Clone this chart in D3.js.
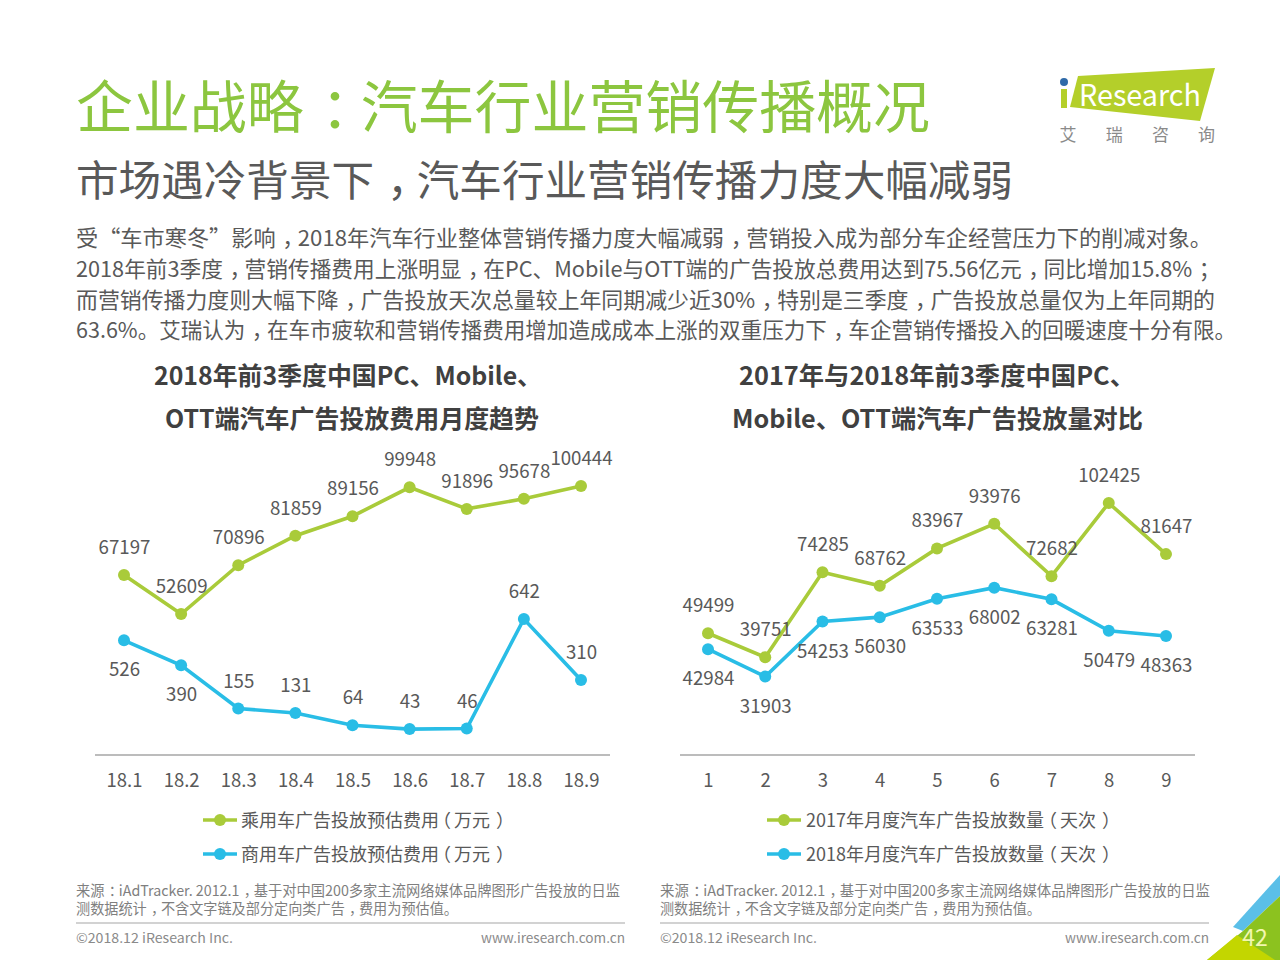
<!DOCTYPE html>
<html><head><meta charset="utf-8">
<script src="https://cdn.jsdelivr.net/npm/d3@7"></script>
<style>
html,body{margin:0;padding:0;background:#fff}svg{display:block}
text{font-family:"Noto Sans CJK SC","Noto Sans",sans-serif}
</style>
</head><body><svg id="c" width="1280" height="960"></svg>
<script>
const months1=["18.1","18.2","18.3","18.4","18.5","18.6","18.7","18.8","18.9"];
const months2=["1","2","3","4","5","6","7","8","9"];
const passenger=[67197,52609,70896,81859,89156,99948,91896,95678,100444];
const commercial=[526,390,155,131,64,43,46,642,310];
const count2017=[49499,39751,74285,68762,83967,93976,72682,102425,81647];
const count2018=[42984,31903,54253,56030,63533,68002,63281,50479,48363];
const commercialLabelBelow=[true,true,false,false,false,false,false,false,false];
const bodyLines=["受“车市寒冬”影响，2018年汽车行业整体营销传播力度大幅减弱，营销投入成为部分车企经营压力下的削减对象。",
"2018年前3季度，营销传播费用上涨明显，在PC、Mobile与OTT端的广告投放总费用达到75.56亿元，同比增加15.8%；",
"而营销传播力度则大幅下降，广告投放天次总量较上年同期减少近30%，特别是三季度，广告投放总量仅为上年同期的",
"63.6%。艾瑞认为，在车市疲软和营销传播费用增加造成成本上涨的双重压力下，车企营销传播投入的回暖速度十分有限。"];
const sourceLines=["来源：iAdTracker. 2012.1，基于对中国200多家主流网络媒体品牌图形广告投放的日监","测数据统计，不含文字链及部分定向类广告，费用为预估值。"];
const GREEN="#a9cb3a",BLUE="#29bde6",TXT="#595959";
const svg=d3.select("#c");
// fullwidth ， ： ； sit centred in their em box in the reference
function t(x,y,s,size,fill,o={}){
 const e=svg.append("text").attr("x",x).attr("y",y).attr("font-size",size).attr("fill",fill)
 .attr("text-anchor",o.a||"start").attr("font-weight",o.w||400);
 const parts=String(s).split(/([，：；])/);
 if(parts.length===1){e.text(s);}
 else{
  const shift=size*0.3;
  parts.forEach(p=>{ if(!p)return;
   const sp=e.append("tspan").text(p);
   if(/^[，：；]$/.test(p))sp.attr("dx",shift).style("letter-spacing",(-shift)+"px");
  });
 }
 if(o.len)e.attr("textLength",o.len).attr("lengthAdjust","spacingAndGlyphs");return e;}
t(76,128,"企业战略：汽车行业营销传播概况",57,"#8cc63f",{len:854});
t(76,196,"市场遇冷背景下，汽车行业营销传播力度大幅减弱",42.6,"#595959",{len:937});
const bodyLen=[1136,1138,1139,1160];
bodyLines.forEach((s,i)=>t(76,246+i*30.8,s,21.5,TXT,{len:bodyLen[i]}));
// logo
svg.append("polygon").attr("points","1078,76 1215,68 1200,121 1070,107").attr("fill","#b4cf2a");
svg.append("circle").attr("cx",1064).attr("cy",82).attr("r",4).attr("fill","#2f6aa8");
svg.append("rect").attr("x",1061).attr("y",89).attr("width",6).attr("height",19).attr("fill","#b4cf2a");
t(1079,106,"Research",30,"#fff",{len:122});
["艾","瑞","咨","询"].forEach((c,i)=>t(1068+i*46.2,141,c,17,"#8a8a8a",{a:"middle"}));
// corner
svg.append("polygon").attr("points","1233,927 1280,875 1280,896 1243,931").attr("fill","#5bbfe8");
svg.append("polygon").attr("points","1243,931 1280,896 1280,960 1207,960").attr("fill","#8cc21f");
svg.append("polygon").attr("points","1237,935 1275,960 1207,960").attr("fill","#c3d600");
t(1255,946,"42",23,"#f3f7b0",{a:"middle"});

function legendText(x,y,s,open){
 const parts=s.match(/^(.*)(.)（(.*)）$/);
 const e=svg.append("text").attr("x",x).attr("y",y).attr("font-size",18).attr("fill",TXT);
 e.append("tspan").text(parts[1]);
 e.append("tspan").style("letter-spacing",open+"px").text(parts[2]);
 e.append("tspan").text("（");
 e.append("tspan").attr("dx",3).text(parts[3]);
 e.append("tspan").attr("dx",6).text("）");
}
function chart(o){
 const x=d3.scalePoint().domain(o.cats).range(o.xr);
 const axis=d3.axisBottom(x).tickSize(0).tickPadding(19);
 const g=svg.append("g").attr("transform","translate(0,755)").call(axis);
 g.select(".domain").attr("d",`M${o.ax[0]},0H${o.ax[1]}`).attr("stroke","#a6a6a6").attr("stroke-width",1.3);
 g.selectAll("text").attr("font-size",18.5).attr("fill",TXT).attr("font-weight",400)
   .style("font-family",'"Noto Sans CJK SC"');
 o.series.forEach(s=>{
  const line=d3.line().x((d,i)=>x(o.cats[i])).y(d=>s.y(d));
  svg.append("path").attr("d",line(s.v)).attr("fill","none").attr("stroke",s.c).attr("stroke-width",3.6);
  svg.selectAll(null).data(s.v).enter().append("circle").attr("cx",(d,i)=>x(o.cats[i])).attr("cy",d=>s.y(d)).attr("r",6).attr("fill",s.c);
  s.v.forEach((d,i)=>{const below=s.below(i);
   t(x(o.cats[i])+0.5,s.y(d)+(below?29:-28)+7,d,18.7,TXT,{a:"middle"});});
 });
 o.titles.forEach((s,i)=>t(o.tx[i],[385,428][i],s,25,"#404040",{a:"middle",w:700,len:o.tl[i]}));
 o.legend.forEach((s,i)=>{const y=820+i*34,c=o.series[i].c;
  svg.append("line").attr("x1",o.lx).attr("x2",o.lx+34).attr("y1",y).attr("y2",y).attr("stroke",c).attr("stroke-width",3.6);
  svg.append("circle").attr("cx",o.lx+17).attr("cy",y).attr("r",6).attr("fill",c);
  legendText(o.lx+o.lt,y+7,s,o.open);
 });
 sourceLines.forEach((s,i)=>t(o.sx,896+i*17.5,s,14.6,"#7f7f7f",{len:o.sl[i]}));
 svg.append("line").attr("x1",o.sx).attr("x2",o.sx+549).attr("y1",923).attr("y2",923).attr("stroke","#a6a6a6").attr("stroke-width",1.2);
 t(o.sx,943,"©2018.12 iResearch Inc.",13.5,"#8a8a8a",{len:157});
 t(o.sx+549,943,"www.iresearch.com.cn",13.5,"#8a8a8a",{a:"end",len:144});
}
const yGreen=d3.scaleLinear().domain([0,100444]).range([755,486]);
const yBlue=d3.scaleLinear().domain([0,642]).range([737,619]);
const yCount=d3.scaleLinear().domain([0,102425]).range([755,503]);
chart({cats:months1,xr:[124,581],ax:[95,610],tx:[348,352],tl:[388,374],sl:[544,382],
 titles:["2018年前3季度中国PC、Mobile、","OTT端汽车广告投放费用月度趋势"],
 legend:["乘用车广告投放预估费用（万元）","商用车广告投放预估费用（万元）"],lx:203,lt:38,open:-6,sx:76,
 series:[{v:passenger,c:GREEN,y:yGreen,below:()=>false},{v:commercial,c:BLUE,y:yBlue,below:i=>commercialLabelBelow[i]}]});
chart({cats:months2,xr:[708,1166],ax:[680,1195],tx:[937,937.5],tl:[396,411],sl:[550,381],
 titles:["2017年与2018年前3季度中国PC、","Mobile、OTT端汽车广告投放量对比"],
 legend:["2017年月度汽车广告投放数量（天次）","2018年月度汽车广告投放数量（天次）"],lx:767,lt:39,open:-5,sx:660,
 series:[{v:count2017,c:GREEN,y:yCount,below:()=>false},{v:count2018,c:BLUE,y:yCount,below:()=>true}]});
</script></body></html>
